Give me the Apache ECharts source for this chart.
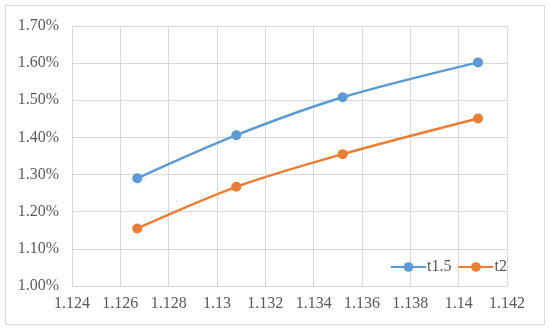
<!DOCTYPE html>
<html>
<head>
<meta charset="UTF-8">
<title>t1.5 / t2</title>
<script src="https://cdn.jsdelivr.net/npm/echarts@6/dist/echarts.min.js"></script>
<style>
  html, body { margin: 0; padding: 0; background: #fff; }
  #chart { width: 550px; height: 332px; }
</style>
</head>
<body>
<div id="chart"></div>
<script>
// x values and rates (%)
var xVals = [1.1267, 1.1308, 1.1352, 1.1408];
var t15 = [1.290, 1.406, 1.508, 1.602];
var t2 = [1.155, 1.267, 1.355, 1.451];
var seriesNames = ['t1.5', 't2'];

function pairs(xs, ys) {
    return xs.map(function (x, i) { return [x, ys[i]]; });
}

var font = 'Liberation Serif';
var grey = '#595959';
var gridColor = '#d9d9d9';

var chart = echarts.init(document.getElementById('chart'));
chart.setOption({
    animation: false,
    textStyle: { fontFamily: font },
    graphic: [{
        type: 'rect',
        shape: { x: 5.5, y: 5.5, width: 539, height: 319 },
        style: { fill: 'none', stroke: gridColor, lineWidth: 1 },
        silent: true
    }],
    grid: { left: 72, right: 43, top: 26, bottom: 46 },
    legend: {
        data: seriesNames,
        left: 385,
        top: 254,
        itemWidth: 35,
        itemHeight: 12,
        itemGap: 6,
        textStyle: { fontFamily: font, fontSize: 16, color: grey, padding: [0, 0, 0, -4] }
    },
    xAxis: {
        type: 'value',
        min: 1.124,
        max: 1.142,
        interval: 0.002,
        axisLine: { show: true, lineStyle: { color: gridColor } },
        axisTick: { show: false },
        splitLine: { show: true, lineStyle: { color: gridColor } },
        axisLabel: {
            color: grey, fontFamily: font, fontSize: 16, margin: 10,
            formatter: function (v) { return String(+v.toFixed(3)); }
        }
    },
    yAxis: {
        type: 'value',
        min: 1.0,
        max: 1.7,
        interval: 0.1,
        axisLine: { show: false },
        axisTick: { show: false },
        splitLine: { show: true, lineStyle: { color: gridColor } },
        axisLabel: {
            color: grey, fontFamily: font, fontSize: 16, margin: 13,
            formatter: function (v) { return v.toFixed(2) + '%'; }
        }
    },
    series: [{
        name: seriesNames[0],
        type: 'line',
        smooth: 0.3,
        data: pairs(xVals, t15),
        symbol: 'circle',
        symbolSize: 10,
        lineStyle: { width: 2.5, color: '#5b9bd5' },
        itemStyle: { color: '#5b9bd5' }
    }, {
        name: seriesNames[1],
        type: 'line',
        smooth: 0.3,
        data: pairs(xVals, t2),
        symbol: 'circle',
        symbolSize: 10,
        lineStyle: { width: 2.5, color: '#ed7d31' },
        itemStyle: { color: '#ed7d31' }
    }]
});
</script>
</body>
</html>
